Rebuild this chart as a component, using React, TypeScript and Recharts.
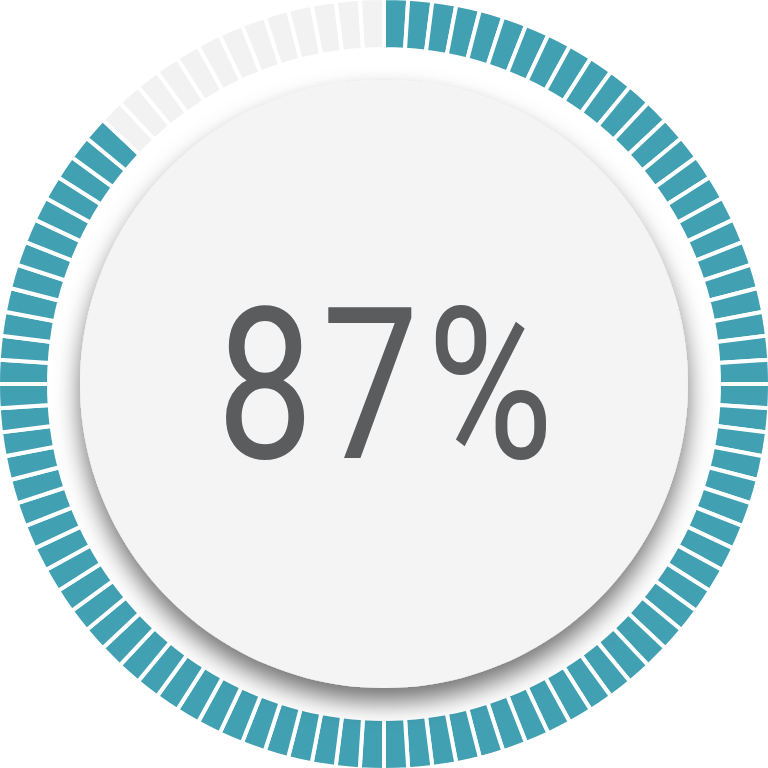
import { PieChart, Pie, Cell, Label } from "recharts";

// the reading shown in the middle, and how many ticks make up the ring
const percentValue = 87;
const segmentCount = 100;

const teal = "#41a0b2";
const track = "#f2f2f2";
const discFill = "#f4f4f4";
const textColor = "#5b5c5e";

// one tick per percent, the first `percentValue` of them are lit
const segments = Array.from({ length: segmentCount }, (_, i) => ({
  name: `tick-${i + 1}`,
  value: 1,
  lit: i < percentValue,
}));

const disc = [{ name: "disc", value: percentValue }];

function CenterText(props: any) {
  const vb = props.viewBox ?? {};
  const cx = vb.cx ?? 384;
  const cy = vb.cy ?? 384;
  return (
    <text
      x={cx + 5}
      y={cy + 74}
      textAnchor="middle"
      textLength={345}
      lengthAdjust="spacingAndGlyphs"
      fill={textColor}
      style={{
        fontFamily: "Roboto, 'DejaVu Sans', sans-serif",
        fontWeight: 400,
        fontSize: 211,
        letterSpacing: 10,
      }}
    >
      {props.value}
    </text>
  );
}

export default function App() {
  return (
    <div style={{ position: "absolute", left: 0, top: 0, width: 768, height: 768, background: "#fff" }}>
      <PieChart width={768} height={768} margin={{ top: 0, right: 0, bottom: 0, left: 0 }}>
        <defs>
          <filter id="discShadow" x="-20%" y="-20%" width="140%" height="140%">
            <feDropShadow dx="0" dy="14" stdDeviation="12" floodColor="#000" floodOpacity="0.55" />
          </filter>
        </defs>
        <Pie
          data={segments}
          dataKey="value"
          nameKey="name"
          cx="50%"
          cy="50%"
          innerRadius={335}
          outerRadius={386}
          startAngle={90}
          endAngle={-270}
          paddingAngle={0}
          stroke="#fff"
          strokeWidth={4}
          isAnimationActive={false}
        >
          {segments.map((s) => (
            <Cell key={s.name} fill={s.lit ? teal : track} />
          ))}
        </Pie>
        <Pie
          data={disc}
          dataKey="value"
          cx="50%"
          cy="50%"
          innerRadius={0}
          outerRadius={304}
          startAngle={90}
          endAngle={-270}
          stroke="none"
          isAnimationActive={false}
        >
          <Cell fill={discFill} filter="url(#discShadow)" />
          <Label position="center" value={`${percentValue}%`} content={<CenterText />} />
        </Pie>
      </PieChart>
    </div>
  );
}
